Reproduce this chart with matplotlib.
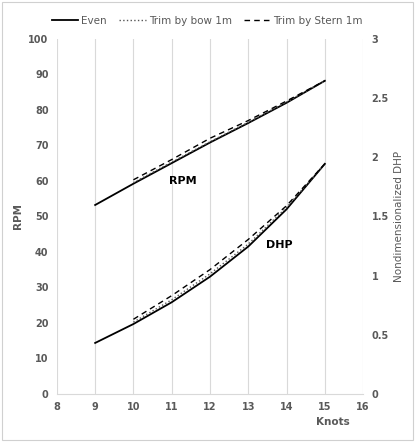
import matplotlib
matplotlib.use("Agg")
import matplotlib.pyplot as plt
from matplotlib.patches import Rectangle

knots_even = [9, 10, 11, 12, 13, 14, 15]
knots_trim = [10, 11, 12, 13, 14, 15]
rpm_even = [53.2, 59.2, 65.0, 70.8, 76.3, 82.0, 88.2]
rpm_bow = [59.5, 65.3, 71.0, 76.5, 82.2, 88.2]
rpm_stern = [60.3, 66.0, 72.0, 77.0, 82.5, 88.2]
dhp_even = [0.43, 0.59, 0.774, 0.99, 1.245, 1.56, 1.944]
dhp_bow = [0.606, 0.795, 1.014, 1.266, 1.575, 1.944]
dhp_stern = [0.63, 0.83, 1.05, 1.305, 1.59, 1.944]

gray = "#595959"
fig = plt.figure(figsize=(4.15, 4.42), dpi=100)
fig.patches.append(Rectangle((0.005, 0.005), 0.99, 0.99, transform=fig.transFigure,
                             fill=False, edgecolor="#d0d0d0", lw=0.8))
ax = fig.add_axes([0.137, 0.109, 0.738, 0.803])
ax2 = ax.twinx()

l1, = ax.plot(knots_even, rpm_even, color="black", lw=1.3, label="Even")
l2, = ax.plot(knots_trim, rpm_bow, color="#555555", lw=1.0, ls=":", label="Trim by bow 1m")
l3, = ax.plot(knots_trim, rpm_stern, color="black", lw=1.0, ls=(0, (4, 3)), label="Trim by Stern 1m")
ax2.plot(knots_even, dhp_even, color="black", lw=1.3)
ax2.plot(knots_trim, dhp_bow, color="#555555", lw=1.0, ls=":")
ax2.plot(knots_trim, dhp_stern, color="black", lw=1.0, ls=(0, (4, 3)))

ax.set_xlim(8, 16)
ax.set_ylim(0, 100)
ax2.set_ylim(0, 3)
ax.set_xticks(range(8, 17))
ax.set_yticks(range(0, 101, 10))
ax2.set_yticks([0, 0.5, 1, 1.5, 2, 2.5, 3])
ax2.set_yticklabels(["0", "0.5", "1", "1.5", "2", "2.5", "3"])
ax.grid(axis="x", color="#d9d9d9", lw=0.8)
ax.set_axisbelow(True)
for a in (ax, ax2):
    for s in a.spines.values():
        s.set_visible(False)
    a.tick_params(length=0, labelsize=7, colors=gray, pad=6)
    for t in a.get_xticklabels() + a.get_yticklabels():
        t.set_fontweight("bold")
ax.spines["bottom"].set_visible(True)
ax.spines["bottom"].set_color("#d9d9d9")
ax.set_xlabel("Knots", fontsize=7.5, color=gray, fontweight="bold")
ax.xaxis.set_label_coords(0.9, -0.065)
ax.set_ylabel("RPM", fontsize=7.5, color=gray, fontweight="bold")
ax2.set_ylabel("Nondimensionalized DHP", fontsize=7.5, color=gray)
ax.text(11.3, 60, "RPM", fontsize=8, fontweight="bold", ha="center", va="center")
ax.text(13.8, 42, "DHP", fontsize=8, fontweight="bold", ha="center", va="center")
fig.legend(handles=[l1, l2, l3], loc="upper center", bbox_to_anchor=(0.5, 0.985), ncol=3,
           frameon=False, fontsize=7.5, handlelength=2.5, columnspacing=1.2, handletextpad=0.3,
           labelcolor=gray)
fig.savefig("out.png", dpi=100)
